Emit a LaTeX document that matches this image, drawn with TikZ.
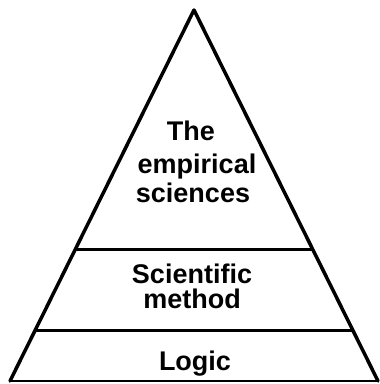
\documentclass[tikz,border=0pt]{standalone}
\usepackage{fontspec}
\setmainfont{Liberation Sans}
\usetikzlibrary{calc}
\begin{document}
\begin{tikzpicture}[x=1pt,y=-1pt,
  edge/.style={line width=3.5pt,line join=round,line cap=round},
  divider/.style={line width=3pt},
  baseline/.style={line width=2pt},
  label/.style={font=\fontsize{27}{30}\selectfont\bfseries,inner sep=0pt,anchor=base}]
  \useasboundingbox (0,0) rectangle (380,384);
  % corners of the pyramid
  \coordinate (apex) at (194,10);
  \coordinate (bl) at (10,381);
  \coordinate (br) at (378,381);
  % levels where the dividing lines meet the sides
  \coordinate (l1) at ($(bl)!{(381-249)/371}!(apex)$);
  \coordinate (r1) at ($(br)!{(381-249)/371}!(apex)$);
  \coordinate (l2) at ($(bl)!{(381-330)/371}!(apex)$);
  \coordinate (r2) at ($(br)!{(381-330)/371}!(apex)$);
  \draw[edge] (bl) -- (apex) -- (br);
  \draw[baseline] (bl) -- (br);
  \draw[divider] (l1) -- (r1);
  \draw[divider] (l2) -- (r2);
  % top tier
  \node[label] (t1) at (191,140) {The};
  \node[label] (t2) at (197,173) {empirical};
  \node[label] (t3) at (193,202) {sciences};
  % middle tier
  \node[label] (m1) at (192,283) {Scientific};
  \node[label] (m2) at (192,308) {method};
  % bottom tier
  \node[label] (b1) at (195,370) {Logic};
\end{tikzpicture}
\end{document}
